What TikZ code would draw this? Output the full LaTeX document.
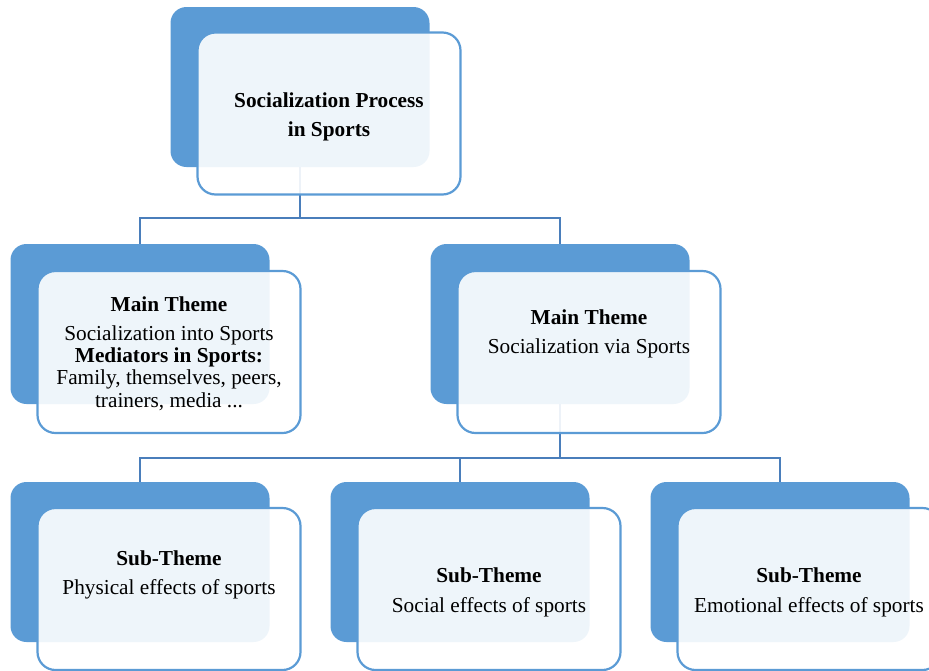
\documentclass[tikz,border=0pt]{standalone}
\usepackage{fontspec}
\setmainfont{Liberation Serif}
\definecolor{boxblue}{HTML}{5B9BD5}
\definecolor{linkblue}{HTML}{4A7EBB}
\begin{document}
\begin{tikzpicture}[x=1pt,y=-1pt,
  back/.style={draw=none, fill=boxblue, rounded corners=16pt, minimum width=259pt, minimum height=160pt, inner sep=0pt},
  front/.style={draw=boxblue, line width=2.2pt, fill=white, fill opacity=0.9, rounded corners=18pt, minimum width=263pt, minimum height=162pt, inner sep=0pt},
  link/.style={draw=linkblue, line width=2.6pt},
  txt/.style={anchor=base, inner sep=0pt, font=\fontsize{21.3}{23}\selectfont, text=black}]
\useasboundingbox (0,0) rectangle (929,670);
\clip (0,0) rectangle (929,670);
% back boxes
\node[back] (topback) at (300,87) {};
\node[back] (lback) at (140,324) {};
\node[back] (rback) at (560,324) {};
\node[back] (b1back) at (140,562) {};
\node[back] (b2back) at (460,562) {};
\node[back] (b3back) at (780,562) {};
% connectors (drawn under the front boxes)
\coordinate (bus1) at (300,218);
\coordinate (bus2) at (560,458);
\draw[link] (topback.south) -- (bus1) -| (lback.north);
\draw[link] (bus1) -| (rback.north);
\draw[link] (rback.south) -- (bus2) -| (b1back.north);
\draw[link] (bus2) -| (b3back.north);
\draw[link] (bus2) -| (b2back.north);
% front boxes
\node[front] (topfront) at (329,113.5) {};
\node[front] (lfront) at (169,352) {};
\node[front] (rfront) at (589,352) {};
\node[front] (b1front) at (169,589) {};
\node[front] (b2front) at (489,589) {};
\node[front] (b3front) at (809,589) {};
% texts
\node[txt] (t1) at (329,107) {\bfseries Socialization Process};
\node[txt] (t2) at (329,136) {\bfseries in Sports};
\node[txt] (l1) at (169,311) {\bfseries Main Theme};
\node[txt] (l2) at (169,340) {Socialization into Sports};
\node[txt] (l3) at (169,362) {\bfseries Mediators in Sports:};
\node[txt] (l4) at (169,384) {Family, themselves, peers,};
\node[txt] (l5) at (169,407) {trainers, media ...};
\node[txt] (r1) at (589,324) {\bfseries Main Theme};
\node[txt] (r2) at (589,353) {Socialization via Sports};
\node[txt] (s1a) at (169,565) {\bfseries Sub-Theme};
\node[txt] (s1b) at (169,594) {Physical effects of sports};
\node[txt] (s2a) at (489,582) {\bfseries Sub-Theme};
\node[txt] (s2b) at (489,612) {Social effects of sports};
\node[txt] (s3a) at (809,582) {\bfseries Sub-Theme};
\node[txt] (s3b) at (809,612) {Emotional effects of sports};
\end{tikzpicture}
\end{document}
